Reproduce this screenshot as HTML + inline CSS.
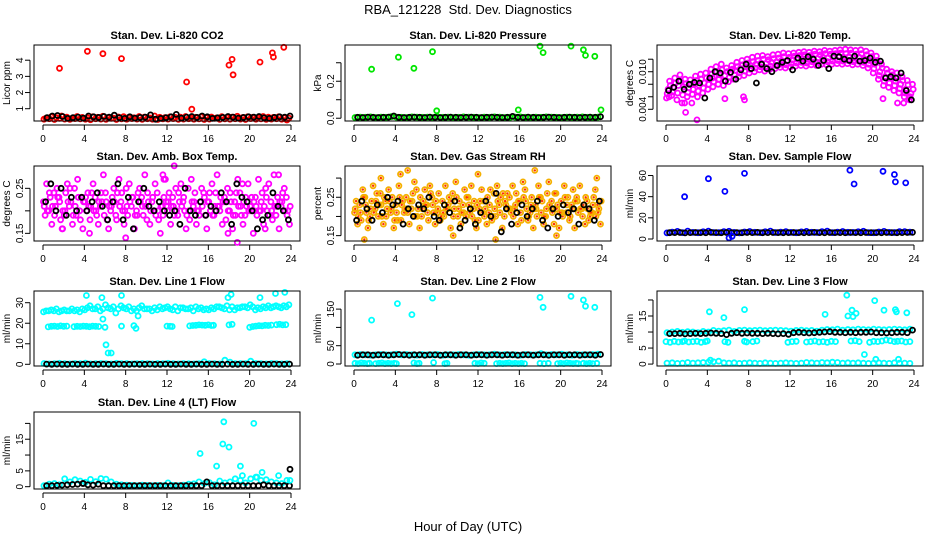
<!DOCTYPE html>
<html><head><meta charset="utf-8"><style>
html,body{margin:0;padding:0;background:#fff;}
svg{display:block;font-family:"Liberation Sans",Arial,sans-serif;}
</style></head><body>
<svg id="chart" width="936" height="540" viewBox="0 0 936 540" xmlns="http://www.w3.org/2000/svg">
<rect width="936" height="540" fill="#fff"/>
<text x="468" y="14" font-size="13" text-anchor="middle" xml:space="preserve">RBA_121228  Std. Dev. Diagnostics</text>
<text x="468" y="531" font-size="13" text-anchor="middle">Hour of Day (UTC)</text>
</svg>
<script>
const xTicks=[0,4,8,12,16,20,24];
const xTickLabels=['0','4','8','12','16','20','24'];
// --- CO2
const co2Red=[0.42,0.50,0.45,0.55,0.48,0.40,0.52,0.46,0.44,0.50,0.47,0.53,0.45,0.42,0.49,0.51,0.46,0.44,0.52,0.48,0.43,0.55,0.47,0.45,0.50,0.46,0.48,0.52,0.44,0.47,0.50,0.45,0.49,0.43,0.51,0.46,0.48,0.53,0.45,0.50,0.47,0.44,0.52,0.48,0.46,0.50,0.45,0.42];
const co2Red2=[0.35,0.38,0.33,0.40,0.36,0.34,0.39,0.37,0.35,0.32,0.38,0.36,0.34,0.40,0.33,0.37,0.35,0.39,0.36,0.34,0.38,0.35,0.33,0.37,0.36,0.39,0.34,0.36,0.38,0.35,0.37,0.33,0.36,0.40,0.34,0.37,0.35,0.38,0.36,0.33,0.39,0.35,0.37,0.34,0.36,0.38,0.35,0.30];
const co2Black=[0.45,0.55,0.58,0.52,0.40,0.45,0.48,0.42,0.55,0.50,0.46,0.52,0.48,0.60,0.45,0.40,0.50,0.42,0.46,0.48,0.62,0.35,0.40,0.45,0.50,0.65,0.42,0.48,0.52,0.46,0.55,0.50,0.40,0.44,0.46,0.52,0.48,0.42,0.46,0.50,0.48,0.52,0.44,0.40,0.46,0.50,0.48,0.55];
const co2OutH=[1.6,4.3,5.8,7.6,13.9,14.4,18.0,18.3,18.4,21.0,22.2,22.3,23.3];
const co2OutV=[3.5,4.55,4.4,4.1,2.65,0.97,3.7,4.05,3.1,3.88,4.45,4.2,4.8];
const co2Ticks=[1,2,3,4], co2Labels=['1','2','3','4'];
// --- Pressure
const prGreen=[0.004,0.006,0.005,0.007,0.004,0.006,0.005,0.008,0.006,0.005,0.004,0.007,0.006,0.005,0.006,0.004,0.007,0.005,0.006,0.004,0.005,0.007,0.006,0.005,0.004,0.006,0.005,0.007,0.006,0.004,0.005,0.006,0.007,0.005,0.004,0.006,0.005,0.007,0.006,0.005,0.004,0.006,0.005,0.006,0.007,0.005,0.004,0.006];
const prBlack=[0.005,0.004,0.006,0.005,0.004,0.005,0.006,0.012,0.005,0.004,0.005,0.006,0.005,0.004,0.006,0.005,0.004,0.005,0.006,0.005,0.004,0.005,0.006,0.005,0.004,0.005,0.006,0.005,0.004,0.005,0.010,0.005,0.004,0.006,0.005,0.004,0.005,0.006,0.005,0.004,0.005,0.006,0.005,0.004,0.005,0.006,0.005,0.008];
const prOutH=[1.7,4.3,5.8,7.6,8.0,15.9,18.0,18.3,21.0,22.2,22.4,23.3,23.9];
const prOutV=[0.265,0.33,0.27,0.36,0.04,0.045,0.39,0.355,0.39,0.37,0.34,0.335,0.045];
const prTicks=[0,0.1,0.2,0.3], prLabels=['0.0','','0.2',''];
// --- Li-820 Temp
const tempMid=[0.0072,0.0075,0.0078,0.0076,0.0074,0.0080,0.0078,0.0082,0.0088,0.0092,0.0095,0.0094,0.0098,0.0102,0.0105,0.0108,0.0110,0.0112,0.0114,0.0113,0.0115,0.0116,0.0118,0.0117,0.0119,0.0120,0.0121,0.0120,0.0122,0.0121,0.0123,0.0122,0.0123,0.0124,0.0123,0.0124,0.0122,0.0123,0.0121,0.0118,0.0112,0.0100,0.0092,0.0090,0.0085,0.0080,0.0072,0.0065];
const tempHi=[0.0085,0.0090,0.0095,0.0088,0.0087,0.0093,0.0096,0.0098,0.0104,0.0108,0.0112,0.0106,0.0110,0.0115,0.0118,0.0120,0.0123,0.0125,0.0126,0.0124,0.0127,0.0128,0.0130,0.0129,0.0130,0.0131,0.0132,0.0131,0.0133,0.0132,0.0134,0.0133,0.0134,0.0135,0.0136,0.0135,0.0134,0.0135,0.0133,0.0130,0.0125,0.0112,0.0104,0.0100,0.0098,0.0092,0.0086,0.0080];
const tempLo=[0.0058,0.0062,0.0055,0.0050,0.0060,0.0064,0.0060,0.0066,0.0072,0.0076,0.0080,0.0078,0.0084,0.0088,0.0092,0.0094,0.0098,0.0100,0.0103,0.0101,0.0104,0.0105,0.0107,0.0106,0.0108,0.0109,0.0110,0.0109,0.0111,0.0110,0.0112,0.0111,0.0112,0.0113,0.0112,0.0113,0.0111,0.0112,0.0110,0.0106,0.0098,0.0088,0.0078,0.0075,0.0070,0.0066,0.0060,0.0055];
const tempD=[0.0078,0.0082,0.0085,0.0081,0.0080,0.0086,0.0088,0.0090,0.0096,0.0100,0.0103,0.0100,0.0104,0.0108,0.0111,0.0114,0.0116,0.0118,0.0120,0.0119,0.0121,0.0122,0.0124,0.0123,0.0125,0.0126,0.0127,0.0126,0.0128,0.0127,0.0129,0.0128,0.0129,0.0130,0.0129,0.0130,0.0128,0.0129,0.0127,0.0124,0.0118,0.0106,0.0098,0.0095,0.0091,0.0086,0.0079,0.0072];
const tempE=[0.0065,0.0068,0.0066,0.0063,0.0067,0.0072,0.0069,0.0074,0.0080,0.0084,0.0088,0.0086,0.0091,0.0095,0.0098,0.0101,0.0104,0.0106,0.0108,0.0107,0.0109,0.0110,0.0112,0.0111,0.0113,0.0114,0.0115,0.0114,0.0116,0.0115,0.0117,0.0116,0.0117,0.0118,0.0117,0.0118,0.0116,0.0117,0.0115,0.0112,0.0105,0.0094,0.0085,0.0082,0.0078,0.0073,0.0066,0.0060];
const tempOutH=[1.8,1.9,3.0,4.5,5.7,7.5,7.6,2.5,21.0,22.4,23.0,0.3];
const tempOutV=[0.0050,0.0035,0.0023,0.0090,0.0057,0.0060,0.0055,0.0050,0.0057,0.0050,0.0050,0.0060];
const tempBlack=[0.0070,0.0075,0.0085,0.0072,0.0080,0.0083,0.0082,0.0058,0.0090,0.0100,0.0098,0.0085,0.0099,0.0088,0.0103,0.0112,0.0105,0.0082,0.0112,0.0105,0.0100,0.0110,0.0115,0.0118,0.0103,0.0122,0.0117,0.0124,0.0120,0.0110,0.0118,0.0105,0.0125,0.0124,0.0120,0.0118,0.0125,0.0117,0.0118,0.0122,0.0115,0.0117,0.0090,0.0092,0.0090,0.0098,0.0070,0.0055];
const tempTicks=[0.004,0.006,0.008,0.010,0.012], tempLabels=['0.004','','','0.010',''];
// --- Amb box temp
const ambA=[0.22,0.20,0.24,0.23,0.19,0.21,0.25,0.20,0.22,0.18,0.23,0.21,0.24,0.20,0.19,0.22,0.25,0.21,0.20,0.23,0.18,0.22,0.24,0.21,0.20,0.23,0.19,0.22,0.25,0.21,0.20,0.24,0.22,0.19,0.21,0.23,0.20,0.22,0.24,0.19,0.21,0.23,0.20,0.25,0.22,0.19,0.21,0.23];
const ambB=[0.19,0.23,0.21,0.18,0.24,0.22,0.19,0.23,0.20,0.24,0.19,0.22,0.18,0.23,0.24,0.20,0.19,0.23,0.24,0.19,0.22,0.20,0.18,0.23,0.24,0.19,0.22,0.20,0.18,0.24,0.22,0.19,0.20,0.24,0.23,0.18,0.22,0.24,0.19,0.21,0.23,0.19,0.24,0.20,0.18,0.23,0.24,0.20];
const ambC=[0.26,0.17,0.25,0.16,0.26,0.17,0.27,0.16,0.24,0.26,0.17,0.28,0.16,0.25,0.27,0.17,0.26,0.16,0.25,0.28,0.17,0.26,0.15,0.27,0.17,0.25,0.26,0.16,0.27,0.17,0.25,0.16,0.26,0.28,0.17,0.25,0.16,0.27,0.17,0.26,0.15,0.27,0.17,0.26,0.28,0.16,0.25,0.17];
const ambD=[0.21,0.24,0.19,0.22,0.20,0.25,0.21,0.18,0.23,0.21,0.20,0.24,0.22,0.21,0.18,0.24,0.21,0.23,0.19,0.21,0.24,0.23,0.20,0.19,0.22,0.21,0.24,0.23,0.20,0.22,0.19,0.23,0.24,0.21,0.20,0.22,0.24,0.19,0.21,0.23,0.20,0.21,0.22,0.23,0.20,0.21,0.22,0.19];
const ambE=[0.20,0.21,0.23,0.20,0.22,0.19,0.23,0.22,0.21,0.20,0.22,0.19,0.21,0.22,0.21,0.20,0.22,0.19,0.22,0.21,0.20,0.19,0.21,0.22,0.21,0.20,0.21,0.19,0.22,0.20,0.21,0.22,0.19,0.21,0.22,0.20,0.19,0.21,0.22,0.20,0.22,0.20,0.21,0.19,0.21,0.22,0.20,0.21];
const ambOutH=[1.9,4.5,8.0,11.6,11.7,12.7,18.8,17.9,19.3,21.5,22.8];
const ambOutV=[0.16,0.15,0.14,0.28,0.27,0.30,0.13,0.15,0.26,0.16,0.28];
const ambBlack=[0.22,0.26,0.20,0.25,0.19,0.23,0.20,0.23,0.20,0.22,0.24,0.21,0.18,0.22,0.26,0.18,0.23,0.16,0.22,0.25,0.21,0.20,0.22,0.20,0.19,0.20,0.17,0.25,0.20,0.19,0.22,0.19,0.21,0.20,0.24,0.22,0.17,0.26,0.23,0.22,0.20,0.16,0.18,0.19,0.24,0.21,0.20,0.18];
const ambTicks=[0.15,0.20,0.25], ambLabels=['0.15','','0.25'];
// --- RH
const rhA=[0.21,0.23,0.25,0.20,0.22,0.26,0.24,0.21,0.23,0.19,0.25,0.22,0.27,0.20,0.23,0.25,0.21,0.24,0.22,0.26,0.20,0.23,0.25,0.22,0.19,0.24,0.21,0.26,0.23,0.20,0.25,0.22,0.24,0.27,0.21,0.23,0.25,0.20,0.22,0.26,0.24,0.21,0.23,0.25,0.22,0.24,0.21,0.23];
const rhB=[0.24,0.19,0.21,0.24,0.26,0.20,0.22,0.25,0.19,0.24,0.21,0.26,0.22,0.24,0.19,0.21,0.26,0.20,0.25,0.22,0.24,0.27,0.21,0.19,0.24,0.22,0.27,0.20,0.25,0.23,0.21,0.26,0.19,0.22,0.25,0.20,0.24,0.26,0.21,0.23,0.20,0.25,0.27,0.21,0.23,0.19,0.25,0.22];
const rhC=[0.18,0.27,0.17,0.28,0.20,0.18,0.27,0.17,0.28,0.21,0.18,0.29,0.17,0.27,0.28,0.18,0.19,0.28,0.17,0.29,0.18,0.20,0.28,0.17,0.27,0.18,0.19,0.28,0.17,0.26,0.28,0.18,0.29,0.19,0.17,0.28,0.18,0.29,0.18,0.17,0.28,0.19,0.17,0.28,0.18,0.20,0.27,0.18];
const rhD=[0.22,0.21,0.23,0.22,0.24,0.23,0.20,0.22,0.21,0.23,0.22,0.24,0.20,0.22,0.21,0.23,0.22,0.21,0.23,0.20,0.22,0.21,0.23,0.24,0.22,0.20,0.23,0.22,0.21,0.24,0.22,0.23,0.21,0.24,0.23,0.22,0.21,0.22,0.24,0.22,0.21,0.23,0.22,0.24,0.20,0.22,0.23,0.21];
const rhE=[0.20,0.25,0.19,0.21,0.23,0.25,0.24,0.19,0.25,0.22,0.24,0.20,0.25,0.23,0.26,0.24,0.20,0.22,0.24,0.25,0.21,0.25,0.20,0.23,0.21,0.25,0.20,0.24,0.26,0.22,0.20,0.24,0.25,0.20,0.22,0.25,0.20,0.23,0.26,0.21,0.25,0.20,0.24,0.22,0.25,0.21,0.20,0.24];
const rhBlack=[0.19,0.24,0.22,0.19,0.23,0.21,0.25,0.23,0.24,0.18,0.22,0.20,0.23,0.22,0.25,0.20,0.19,0.23,0.21,0.24,0.17,0.19,0.22,0.18,0.21,0.24,0.20,0.26,0.16,0.22,0.18,0.21,0.23,0.20,0.22,0.24,0.19,0.17,0.22,0.20,0.23,0.21,0.22,0.18,0.23,0.22,0.19,0.24];
const rhOutH=[1.0,2.6,4.5,5.2,9.6,12.0,13.7,17.5,19.6,23.5];
const rhOutV=[0.14,0.30,0.31,0.32,0.15,0.31,0.14,0.32,0.15,0.30];
const rhTicks=[0.15,0.20,0.25,0.30], rhLabels=['0.15','','0.25',''];
// --- Sample flow
const sfBlue=[5.8,6.5,7.2,6.0,7.5,6.2,5.9,6.8,7.4,6.1,6.0,6.9,7.3,6.2,5.8,6.6,7.1,6.3,6.0,6.8,7.5,6.1,6.4,7.0,6.2,5.9,6.7,7.2,6.3,6.1,6.9,7.4,6.0,6.5,7.1,6.3,6.2,6.8,7.3,6.0,5.9,6.6,7.2,6.2,6.1,6.9,7.0,6.4];
const sfBlack=[5.9,6.0,6.1,5.8,6.0,6.1,6.0,5.9,6.2,6.0,5.9,6.1,6.0,6.0,5.9,6.1,6.0,6.2,5.9,6.0,6.1,6.0,5.9,6.0,6.1,6.0,5.9,6.0,6.2,6.0,5.9,6.1,6.0,6.0,5.9,6.1,6.0,5.9,6.1,6.0,6.0,5.9,6.1,6.0,5.9,6.0,6.1,6.2];
const sfOutH=[1.8,4.1,5.7,7.6,6.4,6.1,17.8,18.2,21.0,22.1,22.2,23.2];
const sfOutV=[40,57,45,62,2.5,1,65,52,64,61,54,53];
const sfTicks=[0,20,40,60], sfLabels=['0','20','40','60'];
// --- Line 1
const l1Top=[26,26.5,27,26,26,27,26.5,27,27.5,27,28,27,27.5,28,27,27.5,28,27,27.5,27,27,27.5,28,27.5,27,28,27.5,27,27.5,28,27.5,27,27.5,28,27.5,28.5,28,27.5,28,27.5,28,27.5,28,28.5,28,28,28.5,29];
const l1Top2=[25.5,26,26,25.5,26.5,26,26,25.5,26.5,28.5,27,26,29,27,25,28.5,27,26,26,28.5,27,26,26.5,27,28,26.5,26,27.5,27,26,27,26.5,26.5,27,28,27,26.5,26.5,27.5,28,29,26.5,27,27.5,27.5,28.5,27.5,28];
const l1MidH=[0.5,0.8,1.1,1.4,1.7,2.0,2.3,3.0,3.3,3.6,3.9,4.2,4.5,4.8,5.1,5.4,7.6,8.8,9.0,12.0,12.3,12.5,14.2,14.5,14.8,15.1,15.4,15.7,16.0,16.3,16.5,18.0,18.3,20.0,20.3,20.6,20.9,21.2,21.5,21.8,22.1,22.6,22.9,23.2,23.5];
const l1MidV=[18.2,18.5,18.6,18.4,18.7,18.5,18.6,18.3,18.5,18.4,18.6,18.5,18.3,18.6,18.5,18.4,18.6,18.8,17.5,18.6,18.5,18.4,18.7,18.9,19.0,19.2,19.1,19.0,19.2,18.9,19.0,19.2,19.5,18.0,18.4,18.6,18.8,18.7,19.0,18.9,19.1,19.3,19.5,19.2,19.3];
const l1Zero=[0.4,0.2,0.3,0.5,0.3,0.2,0.4,0.3,0.6,0.2,0.3,0.4,0.3,0.2,0.5,0.3,0.4,0.2,0.3,0.4,0.3,0.2,0.4,0.3,0.5,0.3,0.2,0.4,0.3,0.2,0.3,1.2,0.4,0.3,0.2,2.0,1.0,0.3,0.4,0.3,1.5,0.4,0.3,0.2,0.4,0.3,0.2,0.3];
const l1Black=[0.1,0.0,0.1,0.0,0.0,0.1,0.0,0.0,0.1,0.0,0.0,0.1,0.0,0.0,0.1,0.0,0.0,0.1,0.0,0.0,0.1,0.0,0.0,0.1,0.0,0.0,0.1,0.0,0.0,0.1,0.0,0.0,0.1,0.0,0.0,0.1,0.0,0.0,0.1,0.0,0.0,0.1,0.0,0.0,0.1,0.0,0.0,0.1];
const l1OutH=[4.2,5.7,5.8,6.0,6.1,6.3,6.6,7.6,17.9,18.2,21.0,22.5,23.4,9.2];
const l1OutV=[33.5,32.5,22,18,9.5,5.5,5.5,33.5,32.5,34,32.5,34.5,35,23.5];
const l1Ticks=[0,10,20,30], l1Labels=['0','10','20','30'];
// --- Line 2
const l2Cyan=[25,26,25,24,25,26,25,25,27,25,26,25,24,26,25,25,26,24,25,25,26,25,24,25,26,25,25,27,25,26,25,25,24,26,25,25,28,25,26,25,27,25,24,26,25,25,26,27];
const l2Black=[24,25,25,24,25,25,24,25,26,25,24,25,25,24,25,25,24,25,25,24,25,25,24,25,25,24,25,25,24,25,25,24,25,25,24,25,25,24,25,25,24,25,25,24,25,25,24,26];
const l2ZeroH=[0.1,0.4,0.7,1.0,1.3,1.5,2.1,2.4,2.7,3.0,3.3,3.6,3.9,4.1,5.8,6.1,6.3,7.7,8.8,9.0,11.7,12.0,12.3,12.6,13.8,14.1,14.4,14.7,15.0,15.3,15.6,15.9,16.2,16.5,18.0,18.4,18.8,19.7,20.0,20.3,20.6,20.9,21.2,21.5,21.7,22.2,22.5,22.8,23.1,23.5];
const l2ZeroV=[2,1,3,2,1,2,1,2,3,1,2,1,2,1,3,1,2,4,1,2,2,1,3,2,1,2,1,2,3,1,2,1,2,1,2,1,2,1,2,1,3,2,1,2,1,2,1,2,1,2];
const l2OutH=[1.7,4.2,5.6,7.6,18.0,18.3,21.0,22.2,22.4,23.3];
const l2OutV=[120,165,135,180,182,155,185,175,158,155];
const l2Ticks=[0,50,100,150], l2Labels=['0','50','','150'];
// --- Line 3
const l3Top=[9.8,10.0,10.2,9.9,10.1,10.0,9.8,10.2,10.0,10.5,10.3,10.4,10.6,10.2,10.5,10.6,10.4,10.5,10.6,10.4,10.5,10.6,10.5,10.4,10.3,10.5,10.6,10.4,10.5,10.3,10.6,10.8,10.7,10.9,10.6,10.8,10.7,10.9,10.8,10.7,10.9,10.8,10.7,10.8,10.9,10.8,10.7,10.9];
const l3Black=[9.5,9.5,9.6,9.4,9.5,9.6,9.5,9.6,9.7,9.6,9.5,9.2,9.6,9.8,9.6,9.7,9.6,9.6,9.5,9.6,9.5,9.4,9.5,9.3,9.8,9.9,9.8,9.7,9.8,9.9,10.0,10.1,9.9,9.9,9.8,9.9,9.8,9.9,9.9,10.0,9.8,9.8,9.7,9.8,9.9,9.9,9.8,10.6];
const l3SevH=[0.0,0.4,0.8,1.2,1.6,1.8,2.2,2.6,3.0,3.4,3.8,4.0,5.7,6.0,7.6,7.8,8.4,8.8,11.8,12.2,12.6,13.6,14.0,14.4,14.8,15.2,15.6,16.0,16.4,17.9,18.3,18.7,19.7,20.1,20.5,20.9,21.3,21.7,22.1,22.4,22.8,23.2,23.6];
const l3SevV=[7.0,6.8,7.1,6.9,7.0,7.2,6.9,7.0,7.1,6.8,7.0,7.2,7.0,6.8,7.1,6.9,7.0,7.2,6.8,7.0,7.1,6.9,7.0,7.2,6.9,7.0,6.8,7.1,7.0,7.2,7.3,7.0,6.8,7.1,7.0,7.2,7.5,7.3,7.0,7.1,7.2,6.9,7.0];
const l3Zero=[0.3,0.4,0.2,0.3,0.5,0.3,0.4,0.5,0.6,0.7,0.9,0.4,0.3,0.4,0.2,0.3,0.4,0.3,0.2,0.4,0.3,0.2,0.3,0.4,0.3,0.2,0.3,0.5,0.4,0.3,0.5,0.4,0.6,0.5,0.3,0.4,0.3,0.4,0.3,0.2,0.3,0.4,0.3,0.2,0.4,0.3,0.3,0.2];
const l3OutH=[4.2,5.6,7.6,15.4,17.5,17.6,18.0,18.1,18.4,20.2,21.1,22.2,22.3,23.3,19.2,20.3,22.5,4.3];
const l3OutV=[16.3,14.5,17,15.5,21.5,15,16.8,14.8,15.8,19.8,16.8,17,16.3,16,3,1.5,1.5,1.2];
const l3Ticks=[0,5,10,15,20], l3Labels=['0','5','','15',''];
// --- Line 4
const l4Cyan=[0.3,0.8,1.0,0.6,2.5,1.5,2.2,1.8,1.4,2.3,1.6,2.6,2.4,1.5,0.8,0.6,0.5,0.4,0.3,0.5,0.4,0.3,0.4,0.3,1.2,0.4,0.3,0.5,0.8,0.9,1.5,1.0,1.3,0.6,1.8,1.2,1.5,2.5,2.0,1.2,2.5,3.0,2.0,2.2,1.5,1.2,1.0,2.0];
const l4Black=[0.3,0.3,0.4,0.5,0.6,0.7,0.8,1.0,0.6,0.5,0.8,0.3,0.3,0.3,0.3,0.3,0.3,0.3,0.3,0.3,0.3,0.3,0.3,0.3,0.3,0.3,0.3,0.3,0.3,0.3,0.3,1.5,0.3,0.3,0.3,0.3,0.3,0.3,0.3,0.3,0.3,0.3,0.6,0.3,0.3,0.3,0.3,0.3];
const l4OutH=[17.5,20.4,17.4,18.0,15.2,16.8,19.1,19.3,21.2,22.8,23.9,20.7,3.9,23.9];
const l4OutV=[20.5,20,13.5,12.5,10.5,6.5,6.5,3.5,4.5,3.5,2,3,1,5.5];
const l4OutC=['c','c','c','c','c','c','c','c','c','c','c','c','k','k'];
const l4Ticks=[0,5,10,15,20], l4Labels=['0','5','','15',''];

const svg=document.getElementById('chart');
const NS='http://www.w3.org/2000/svg';
const COL={k:'#000000',r:'#ff0000',g:'#00e600',m:'#ff00ff',b:'#0000ff',c:'#00ffff',o:'#f5b000'};
function mk(tag,attrs,parent){const e=document.createElementNS(NS,tag);for(const k in attrs)e.setAttribute(k,attrs[k]);(parent||svg).appendChild(e);return e;}
function grid(n,off){const a=[];for(let i=0;i<n;i++)a.push(i*0.5+off);return a;}

function panel(name,L,R,T,B,ymin,ymax,ticks,labels,title,ylab){
  const g=mk('g',{});
  
  
  const xs=h=>L+9+(R-L-18)*h/24;
  const ys=v=>B-(v-ymin)/(ymax-ymin)*(B-T);
  const t=mk('text',{x:(L+R)/2,y:T-6,'font-size':11,'font-weight':'bold','text-anchor':'middle'},g);
  t.textContent=title;
  
  
  const yl=mk('text',{x:0,y:0,'font-size':10,'text-anchor':'middle',transform:`translate(${L-24},${(T+B)/2}) rotate(-90)`},g);
  yl.textContent=ylab;
  
  
  const xa=mk('g',{},g);
  
  
  mk('line',{x1:xs(0),x2:xs(24),y1:B+4,y2:B+4,stroke:'#000','stroke-width':1},xa);
  xTicks.forEach((h,i)=>{mk('line',{x1:xs(h),x2:xs(h),y1:B+4,y2:B+9,stroke:'#000','stroke-width':1},xa);
    const tx=mk('text',{x:xs(h),y:B+21,'font-size':10,'text-anchor':'middle'},xa);tx.textContent=xTickLabels[i];});
  const ya=mk('g',{},g);
  
  
  mk('line',{x1:L-4,x2:L-4,y1:ys(ticks[0]),y2:ys(ticks[ticks.length-1]),stroke:'#000','stroke-width':1},ya);
  ticks.forEach((v,i)=>{mk('line',{x1:L-9,x2:L-4,y1:ys(v),y2:ys(v),stroke:'#000','stroke-width':1},ya);
    if(labels[i]){const tx=mk('text',{x:0,y:0,'font-size':10,'text-anchor':'middle',transform:`translate(${L-11},${ys(v)}) rotate(-90)`},ya);tx.textContent=labels[i];}});
  const pts=mk('g',{},g);
  
  
  mk('rect',{x:L,y:T,width:R-L,height:B-T,fill:'none',stroke:'#000','stroke-width':1},g);
  return {draw(hours,vals,c,sname){const sg=mk('g',{fill:'none',stroke:COL[c],'stroke-width':1.8},pts);
      
      
      vals.forEach((v,i)=>{mk('circle',{cx:xs(hours[i]).toFixed(1),cy:ys(v).toFixed(1),r:2.5},sg);
        if(c==='o'){mk('circle',{cx:xs(hours[i]).toFixed(1),cy:ys(v).toFixed(1),r:1.2,fill:'#ff3000',stroke:'none'},sg);}});}};
}

let p;
p=panel('co2',34,300,45,121,0.24,4.94,co2Ticks,co2Labels,'Stan. Dev. Li-820 CO2','Licor ppm');
p.draw(grid(48,0.1),co2Red2,'r','co2-red-low');p.draw(grid(48,0.3),co2Red,'r','co2-red');p.draw(grid(48,0.4),co2Black,'k','co2-black');p.draw(co2OutH,co2OutV,'r','co2-outliers');
p=panel('pressure',345,611,45,121,-0.015,0.396,prTicks,prLabels,'Stan. Dev. Li-820 Pressure','kPa');
p.draw(grid(48,0.1),prGreen,'g','pressure-green');p.draw(grid(48,0.35),prBlack,'k','pressure-black');p.draw(prOutH,prOutV,'g','pressure-outliers');
p=panel('li820-temp',657,923,45,121,0.00213,0.01427,tempTicks,tempLabels,'Stan. Dev. Li-820 Temp.','degrees C');
p.draw(grid(48,0.05),tempLo,'m','temp-low');p.draw(grid(48,0.12),tempE,'m','temp-midlow');p.draw(grid(48,0.2),tempMid,'m','temp-mid');p.draw(grid(48,0.42),tempD,'m','temp-midhigh');p.draw(grid(48,0.35),tempHi,'m','temp-high');p.draw(tempOutH,tempOutV,'m','temp-outliers');p.draw(grid(48,0.25),tempBlack,'k','temp-black');
p=panel('amb-box-temp',34,300,166,241,0.133,0.2996,ambTicks,ambLabels,'Stan. Dev. Amb. Box Temp.','degrees C');
p.draw(grid(48,0.05),ambA,'m','amb-a');p.draw(grid(48,0.2),ambB,'m','amb-b');p.draw(grid(48,0.35),ambC,'m','amb-c');p.draw(grid(48,0.12),ambD,'m','amb-d');p.draw(grid(48,0.42),ambE,'m','amb-e');p.draw(ambOutH,ambOutV,'m','amb-outliers');p.draw(grid(48,0.25),ambBlack,'k','amb-black');
p=panel('gas-rh',345,611,166,241,0.136,0.3315,rhTicks,rhLabels,'Stan. Dev. Gas Stream RH','percent');
p.draw(grid(48,0.05),rhA,'o','rh-a');p.draw(grid(48,0.2),rhB,'o','rh-b');p.draw(grid(48,0.35),rhC,'o','rh-c');p.draw(grid(48,0.12),rhD,'o','rh-d');p.draw(grid(48,0.42),rhE,'o','rh-e');p.draw(rhOutH,rhOutV,'o','rh-outliers');p.draw(grid(48,0.25),rhBlack,'k','rh-black');
p=panel('sample-flow',657,923,166,241,-1.9,69,sfTicks,sfLabels,'Stan. Dev. Sample Flow','ml/min');
p.draw(grid(48,0.1),sfBlue,'b','sample-flow-blue');p.draw(grid(48,0.35),sfBlack,'k','sample-flow-black');p.draw(sfOutH,sfOutV,'b','sample-flow-outliers');
p=panel('line1-flow',34,300,291,366,-0.83,35.7,l1Ticks,l1Labels,'Stan. Dev. Line 1 Flow','ml/min');
p.draw(grid(48,0.05),l1Top2,'c','line1-top-b');p.draw(grid(48,0.3),l1Top,'c','line1-top');p.draw(l1MidH,l1MidV,'c','line1-mid');p.draw(grid(48,0.1),l1Zero,'c','line1-zero');p.draw(grid(48,0.35),l1Black,'k','line1-black');p.draw(l1OutH,l1OutV,'c','line1-outliers');
p=panel('line2-flow',345,611,291,366,-5.5,199.5,l2Ticks,l2Labels,'Stan. Dev. Line 2 Flow','ml/min');
p.draw(grid(48,0.1),l2Cyan,'c','line2-cyan');p.draw(l2ZeroH,l2ZeroV,'c','line2-zero');p.draw(grid(48,0.35),l2Black,'k','line2-black');p.draw(l2OutH,l2OutV,'c','line2-outliers');
p=panel('line3-flow',657,923,291,366,-0.6,22.8,l3Ticks,l3Labels,'Stan. Dev. Line 3 Flow','ml/min');
p.draw(grid(48,0.1),l3Top,'c','line3-top');p.draw(l3SevH,l3SevV,'c','line3-seven');p.draw(grid(48,0.1),l3Zero,'c','line3-zero');p.draw(grid(48,0.35),l3Black,'k','line3-black');p.draw(l3OutH,l3OutV,'c','line3-outliers');
p=panel('line4-flow',34,300,412,489,-0.73,23.6,l4Ticks,l4Labels,'Stan. Dev. Line 4 (LT) Flow','ml/min');
p.draw(grid(48,0.1),l4Cyan,'c','line4-cyan');p.draw(grid(48,0.35),l4Black,'k','line4-black');
p.draw(l4OutH.filter((h,i)=>l4OutC[i]==='c'),l4OutV.filter((v,i)=>l4OutC[i]==='c'),'c','line4-outliers');
p.draw(l4OutH.filter((h,i)=>l4OutC[i]==='k'),l4OutV.filter((v,i)=>l4OutC[i]==='k'),'k','line4-black-outliers');
</script>
</body></html>
